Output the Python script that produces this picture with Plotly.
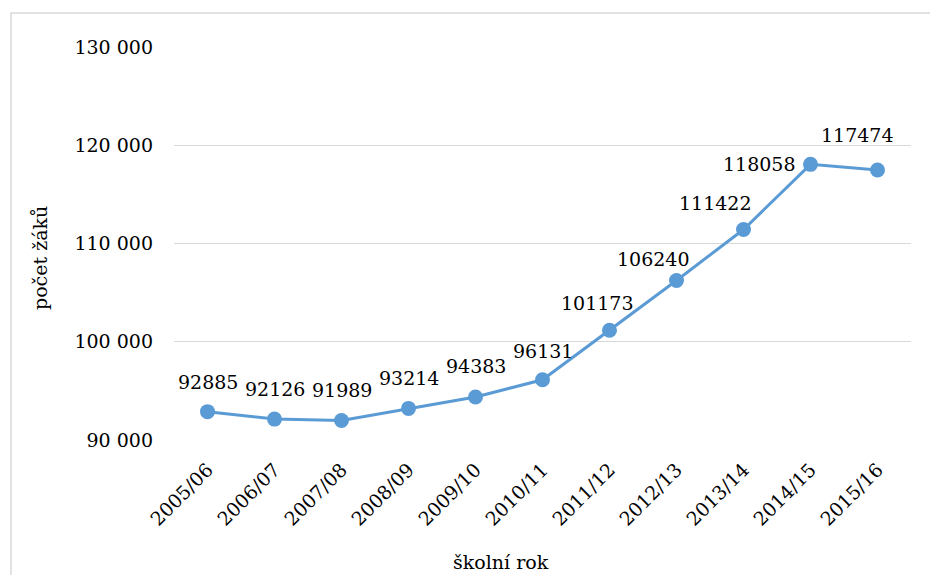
import plotly.graph_objects as go

# Počet žáků podle školního roku
school_years = ["2005/06", "2006/07", "2007/08", "2008/09", "2009/10", "2010/11",
                "2011/12", "2012/13", "2013/14", "2014/15", "2015/16"]
pupils = [92885, 92126, 91989, 93214, 94383, 96131,
          101173, 106240, 111422, 118058, 117474]

# offsets (px) of each value label from its marker
label_dx = [0, 0, 0, 0, 0, 0, -12, -23, -28, -51, -20]
label_dy = [30, 30, 30, 30, 31, 29, 27, 21, 27, 0, 35]

FONT = "DejaVu Serif"
SIZE = 19
BLUE = "#5B9BD5"
GRID = "#D9D9D9"

fig = go.Figure()
fig.add_trace(go.Scatter(
    x=school_years, y=pupils, mode="lines+markers",
    line=dict(color=BLUE, width=3),
    marker=dict(color=BLUE, size=15),
    hoverinfo="x+y", showlegend=False,
))

for yr, val, dx, dy in zip(school_years, pupils, label_dx, label_dy):
    fig.add_annotation(
        x=yr, y=val, xref="x", yref="y", text=str(val), showarrow=False,
        xanchor="center", yanchor="middle", xshift=dx, yshift=dy,
        font=dict(family=FONT, size=SIZE, color="#000000"),
    )

# axis titles
fig.add_annotation(
    x=0, y=0, xref="paper", yref="paper", text="počet žáků", showarrow=False,
    textangle=-90, xanchor="center", yanchor="middle", xshift=-134, yshift=182,
    font=dict(family=FONT, size=SIZE, color="#000000"),
)
fig.add_annotation(
    x=0, y=0, xref="paper", yref="paper", text="školní rok", showarrow=False,
    xanchor="center", yanchor="middle", xshift=327, yshift=-122,
    font=dict(family=FONT, size=SIZE, color="#000000"),
)

# chart frame
fig.add_shape(
    type="rect", xref="paper", yref="paper",
    x0=(11 - 174) / 737, x1=1.05, y0=-0.5, y1=1 + (47 - 13) / 393,
    line=dict(color=GRID, width=1.5), fillcolor="rgba(0,0,0,0)", layer="below",
)

fig.update_layout(
    width=930, height=575,
    margin=dict(l=174, r=19, t=47, b=135),
    paper_bgcolor="white", plot_bgcolor="white",
    separators=", ",
    font=dict(family=FONT, size=SIZE, color="#000000"),
)
fig.update_xaxes(
    type="category", range=[-0.5, len(school_years) - 0.5],
    tickangle=-45, showgrid=False, showline=False, zeroline=False, ticks="",
    ticklabelstandoff=14,
    tickfont=dict(family=FONT, size=SIZE, color="#000000"),
)
fig.update_yaxes(
    range=[90000, 130000], dtick=10000, tick0=90000, tickformat=",d",
    showgrid=True, gridcolor=GRID, gridwidth=1.3, zeroline=False, showline=False,
    ticks="", ticklabelstandoff=20,
    tickfont=dict(family=FONT, size=SIZE, color="#000000"),
)

fig.write_html("out.html")
